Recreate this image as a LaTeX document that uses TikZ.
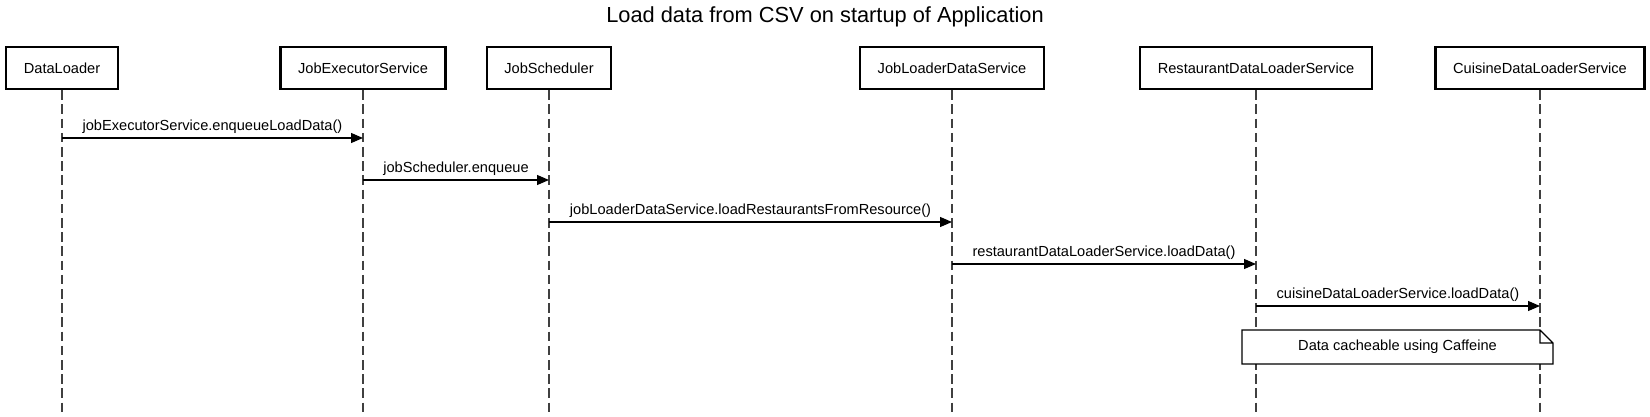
\documentclass[tikz,border=0pt]{standalone}
\usepackage{fontspec}
\setmainfont{Liberation Sans}
\usetikzlibrary{arrows.meta}

\begin{document}
\begin{tikzpicture}
    [x=0.5pt,y=-0.5pt,
     every node/.style={font=\fontsize{7.3}{8.7}\selectfont},
     actor/.style={draw,line width=1.2pt,minimum height=21pt,inner xsep=8.8pt},
     lifeline/.style={draw=black!75,line width=0.7pt,dash pattern=on 4.8pt off 2.3pt},
     msg/.style={line width=0.6pt,-{Triangle[length=6pt,width=5pt]}},
     call/.style={anchor=base,yshift=3.8pt}]
    \useasboundingbox (0,0) rectangle (1650,417);
    \node (title) at (825,17) [font=\fontsize{10.9}{13}\selectfont] {Load data from CSV on startup of Application};
    \node (loader) at (62,68) [actor] {DataLoader};
    \node (executor) at (363,68) [actor] {JobExecutorService};
    \node (scheduler) at (549,68) [actor] {JobScheduler};
    \node (jobdata) at (952,68) [actor] {JobLoaderDataService};
    \node (restaurant) at (1256,68) [actor] {RestaurantDataLoaderService};
    \node (cuisine) at (1540,68) [actor] {CuisineDataLoaderService};
    \coordinate (bottom) at (0,417);
    \foreach \a in {loader,executor,scheduler,jobdata,restaurant,cuisine}
      \draw [lifeline] (\a) -- (\a |- bottom);
    % one row per call
    \coordinate (m1) at (0,138);
    \coordinate (m2) at (0,180);
    \coordinate (m3) at (0,222);
    \coordinate (m4) at (0,264);
    \coordinate (m5) at (0,306);
    \draw [msg] (loader |- m1) -- node [call] {jobExecutorService.enqueueLoadData()} (executor |- m1);
    \draw [msg] (executor |- m2) -- node [call] {jobScheduler.enqueue} (scheduler |- m2);
    \draw [msg] (scheduler |- m3) -- node [call] {jobLoaderDataService.loadRestaurantsFromResource()} (jobdata |- m3);
    \draw [msg] (jobdata |- m4) -- node [call] {restaurantDataLoaderService.loadData()} (restaurant |- m4);
    \draw [msg] (restaurant |- m5) -- node [call] {cuisineDataLoaderService.loadData()} (cuisine |- m5);
    % note with folded corner
    \node (note) at (1397.5,347) [fill=white,outer sep=0pt,minimum width=155.5pt,minimum height=17pt] {Data cacheable using Caffeine};
    \draw [line width=0.6pt] (note.north west) -- ([xshift=-6.5pt]note.north east) -- ([yshift=-6.5pt]note.north east)
      -- (note.south east) -- (note.south west) -- cycle
      ([xshift=-6.5pt]note.north east) |- ([yshift=-6.5pt]note.north east);
  \end{tikzpicture}
\end{document}
